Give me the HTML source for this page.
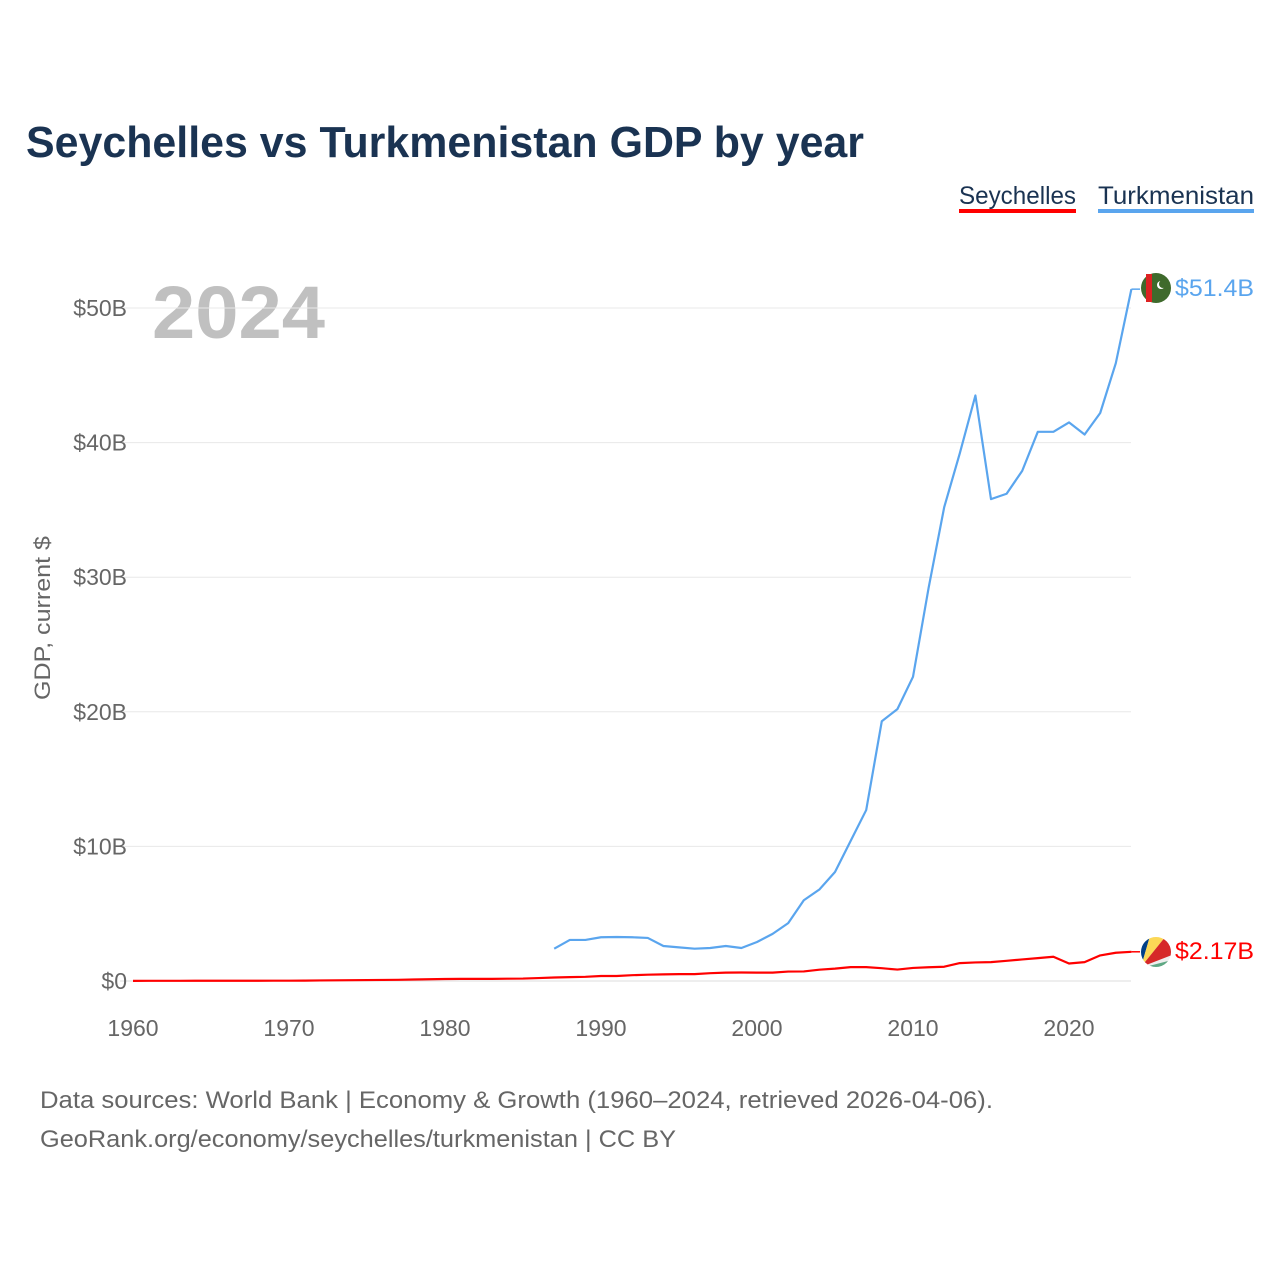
<!DOCTYPE html>
<html><head><meta charset="utf-8"><style>
html,body{margin:0;padding:0;background:#fff;}
svg{display:block;font-family:"Liberation Sans",sans-serif;}
</style></head><body>
<svg id="chart" width="1280" height="1280" viewBox="0 0 1280 1280">
<text x="26" y="157" font-size="44" font-weight="bold" fill="#1a3352" textLength="838" lengthAdjust="spacingAndGlyphs">Seychelles vs Turkmenistan GDP by year</text>
<g>
<text x="959" y="204" font-size="25" fill="#1a3352" textLength="117" lengthAdjust="spacingAndGlyphs">Seychelles</text>
<rect x="959" y="209" width="117" height="4" fill="#ff0000"/>
<text x="1098" y="204" font-size="25" fill="#1a3352" textLength="156" lengthAdjust="spacingAndGlyphs">Turkmenistan</text>
<rect x="1098" y="209" width="156" height="4" fill="#5aa5ee"/>
</g>
<text x="152" y="338" font-size="74" font-weight="bold" fill="#c0c0c0" textLength="173" lengthAdjust="spacingAndGlyphs">2024</text>
<text transform="translate(50,618) rotate(-90)" text-anchor="middle" font-size="22" fill="#666" textLength="164" lengthAdjust="spacingAndGlyphs">GDP, current $</text>
<g id="grid"></g><g id="yt"></g><g id="xt"></g><g id="lines"></g>
<g>
<circle cx="1156" cy="288" r="15" fill="#3f6a2c"/>
<rect x="1146" y="274" width="6" height="28" fill="#d22" />
<circle cx="1161" cy="285" r="4" fill="#fff"/><circle cx="1163" cy="284" r="4" fill="#3f6a2c"/>
</g>
<text x="1175" y="296" font-size="24" fill="#5aa5ee" textLength="79" lengthAdjust="spacingAndGlyphs">$51.4B</text>
<g>
<clipPath id="sc"><circle cx="1156" cy="952" r="15"/></clipPath>
<g clip-path="url(#sc)">
<rect x="1140" y="936" width="32" height="32" fill="#eee"/>
<polygon points="1141,967 1141,936 1150,936" fill="#003f87"/>
<polygon points="1141,967 1150,936 1166,936" fill="#fcd856"/>
<polygon points="1141,967 1166,936 1172,936 1172,955" fill="#d62828"/>
<polygon points="1141,968 1172,960 1172,968" fill="#007a3d" opacity="0.6"/>
</g></g>
<text x="1175" y="959" font-size="24" fill="#ff0000" textLength="79" lengthAdjust="spacingAndGlyphs">$2.17B</text>
<text x="40" y="1108" font-size="24" fill="#666" textLength="953" lengthAdjust="spacingAndGlyphs">Data sources: World Bank | Economy &amp; Growth (1960–2024, retrieved 2026-04-06).</text>
<text x="40" y="1147" font-size="24" fill="#666" textLength="636" lengthAdjust="spacingAndGlyphs">GeoRank.org/economy/seychelles/turkmenistan | CC BY</text>
</svg>
<script>
const yTicks=[0,10,20,30,40,50];
const yTickLabels=["$0","$10B","$20B","$30B","$40B","$50B"];
const xTicks=[1960,1970,1980,1990,2000,2010,2020];
const tmYears=[];for(let y=1987;y<=2024;y++)tmYears.push(y);
const tmValues=[2.4,3.05,3.05,3.25,3.27,3.25,3.2,2.6,2.5,2.4,2.45,2.6,2.45,2.9,3.5,4.3,6.0,6.8,8.1,10.4,12.7,19.3,20.2,22.6,29.2,35.2,39.2,43.5,35.8,36.2,37.9,40.8,40.8,41.5,40.6,42.2,45.9,51.4];
const scYears=[];for(let y=1960;y<=2024;y++)scYears.push(y);
const scValues=[0.012,0.013,0.014,0.015,0.016,0.017,0.018,0.019,0.02,0.022,0.025,0.03,0.04,0.05,0.06,0.07,0.08,0.09,0.11,0.13,0.15,0.16,0.16,0.16,0.17,0.18,0.22,0.26,0.29,0.31,0.37,0.37,0.43,0.47,0.49,0.51,0.51,0.58,0.62,0.63,0.62,0.62,0.7,0.71,0.84,0.92,1.03,1.03,0.95,0.85,0.97,1.02,1.06,1.33,1.38,1.4,1.5,1.6,1.7,1.8,1.3,1.4,1.9,2.1,2.17];
const X=y=>133+(y-1960)*15.6;
const Y=v=>981-v*13.46;
const ns="http://www.w3.org/2000/svg";
function mk(tag,at,parent){const e=document.createElementNS(ns,tag);for(const k in at)e.setAttribute(k,at[k]);document.getElementById(parent).appendChild(e);return e;}
yTicks.forEach((v,i)=>{
 const l=mk('line',{x1:120,x2:1131,y1:Y(v),y2:Y(v),stroke:v===0?'#ddd':'#e8e8e8','stroke-width':1},'grid');
 
 
 const t=mk('text',{x:127,y:Y(v)+8,'text-anchor':'end','font-size':23,fill:'#666'},'yt');
 t.textContent=yTickLabels[i];
 
 
});
xTicks.forEach(v=>{
 const t=mk('text',{x:X(v),y:1036,'text-anchor':'middle','font-size':23,fill:'#666'},'xt');
 t.textContent=v;
 
 
});
function line(xs,vs,col,name){
 const p=mk('polyline',{points:xs.map((y,i)=>X(y)+','+Y(vs[i])).join(' '),fill:'none',stroke:col,'stroke-width':2.2,'stroke-linejoin':'round'},'lines');
 
 
 const last=vs.length-1;
 const c=mk('line',{x1:X(xs[last]),x2:1140,y1:Y(vs[last]),y2:Y(vs[last]),stroke:col,'stroke-width':1.5},'lines');
 
 
}
line(tmYears,tmValues,'#5aa5ee','turkmenistan-line');
line(scYears,scValues,'#ff0000','seychelles-line');
</script>
</body></html>
